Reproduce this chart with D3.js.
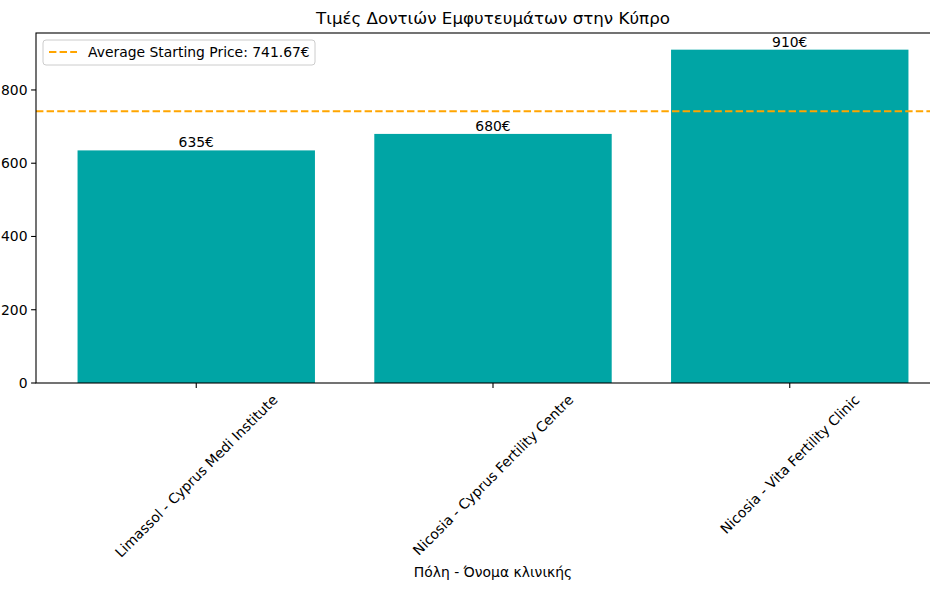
<!DOCTYPE html>
<html><head><meta charset="utf-8">
<script src="https://cdn.jsdelivr.net/npm/d3@7"></script>
<style>body{margin:0;background:#fff}svg{display:block}text{font-family:"DejaVu Sans",sans-serif;fill:#000}</style>
</head><body>
<svg id="c" width="930" height="590"></svg>
<script>
const categories = ["Limassol - Cyprus Medi Institute", "Nicosia - Cyprus Fertility Centre", "Nicosia - Vita Fertility Clinic"];
const prices = [635, 680, 910];
const yTicks = [0, 200, 400, 600, 800];
const title = "Τιμές Δοντιών Εμφυτευμάτων στην Κύπρο";
const xLabel = "Πόλη - Όνομα κλινικής";
const avg = d3.mean(prices);
const legendLabel = "Average Starting Price: " + avg.toFixed(2) + "€";

const svg = d3.select("#c");
const L = 36, R = 950, T = 33, B = 383;
const n = categories.length;
const x = d3.scaleLinear().domain([-0.54, n - 1 + 0.54]).range([L, R]);
const y = d3.scaleLinear().domain([0, d3.max(prices) * 1.05]).range([B, T]);
const fs = 13.9;
const barW = 0.8;

// bars
svg.selectAll("rect.bar").data(prices).join("rect")
  .attr("x", (d, i) => x(i - barW / 2))
  .attr("width", (d, i) => x(i + barW / 2) - x(i - barW / 2))
  .attr("y", d => y(d)).attr("height", d => y(0) - y(d))
  .attr("fill", "#00a5a5");

// value labels
svg.selectAll("text.val").data(prices).join("text")
  .attr("x", (d, i) => x(i)).attr("y", d => y(d) - 3)
  .attr("text-anchor", "middle").style("font-size", fs + "px")
  .text(d => d + "€");

// average line
svg.append("line").attr("x1", L).attr("x2", R).attr("y1", y(avg)).attr("y2", y(avg))
  .attr("stroke", "#ffa500").attr("stroke-width", 2).attr("stroke-dasharray", "7.4,3.2");

// spines
svg.append("rect").attr("x", L).attr("y", T).attr("width", R - L).attr("height", B - T)
  .attr("fill", "none").attr("stroke", "#000").attr("stroke-width", 1.1);

// y axis
const yAxis = svg.append("g");
yTicks.forEach(t => {
  yAxis.append("line").attr("x1", L - 4.9).attr("x2", L).attr("y1", y(t)).attr("y2", y(t)).attr("stroke", "#000").attr("stroke-width", 1.1);
  yAxis.append("text").attr("x", L - 8.5).attr("y", y(t)).attr("dy", "0.36em").attr("text-anchor", "end")
    .style("font-size", fs + "px").text(t);
});

// x axis ticks and rotated labels
const xAxis = svg.append("g");
categories.forEach((c, i) => {
  const cx = x(i);
  xAxis.append("line").attr("x1", cx).attr("x2", cx).attr("y1", B).attr("y2", B + 4.9).attr("stroke", "#000").attr("stroke-width", 1.1);
  const t = xAxis.append("text").attr("text-anchor", "middle").attr("dominant-baseline", "central")
    .style("font-size", fs + "px").text(c);
  const len = t.node().getComputedTextLength();
  const H = (len + fs * 1.17) * Math.SQRT1_2;
  const cy = B + 8.5 + H / 2;
  t.attr("transform", `translate(${cx},${cy}) rotate(-45)`);
});

// x label
svg.append("text").attr("x", (L + R) / 2).attr("y", 577).attr("text-anchor", "middle")
  .style("font-size", fs + "px").text(xLabel);

// title
svg.append("text").attr("x", (L + R) / 2).attr("y", 24).attr("text-anchor", "middle")
  .style("font-size", "16.7px").text(title);

// legend
const lg = svg.append("g");
lg.append("rect").attr("x", 43).attr("y", 40).attr("width", 272).attr("height", 25).attr("rx", 3)
  .attr("fill", "#fff").attr("fill-opacity", 0.8).attr("stroke", "#ccc");
lg.append("line").attr("x1", 49).attr("x2", 77).attr("y1", 52).attr("y2", 52)
  .attr("stroke", "#ffa500").attr("stroke-width", 2).attr("stroke-dasharray", "7.4,3.2");
lg.append("text").attr("x", 88).attr("y", 52).attr("dy", "0.36em").style("font-size", fs + "px").text(legendLabel);
</script>
</body></html>
